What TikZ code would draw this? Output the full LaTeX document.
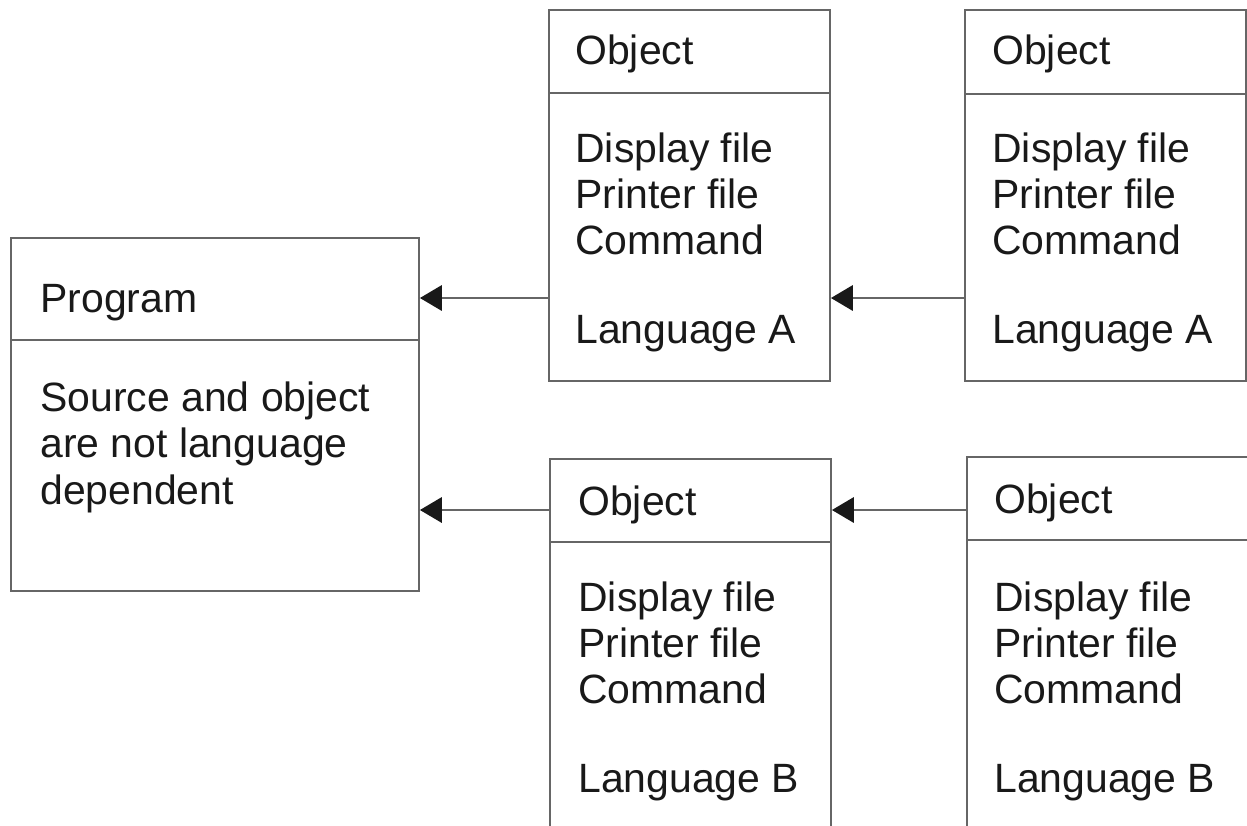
\documentclass[tikz,border=0pt]{standalone}
\usepackage{fontspec}
\setmainfont{Liberation Sans}
\usetikzlibrary{positioning, arrows.meta}

\begin{document}
\begin{tikzpicture}[x=0.02cm, y=-0.02cm,
  box/.style={draw=black!60, line width=1.1pt, anchor=north west, inner sep=0pt},
  txt/.style={anchor=base west, inner sep=0pt, align=left, text=black!90, font=\fontsize{23.3}{26.2}\selectfont},
  arr/.style={draw=black!60, line width=1.1pt, -{Triangle[length=12.5pt, width=14.5pt, color=black!90]}}]
\clip (0,0) rectangle (1247,825);

% boxes
\node[box, minimum width=408*0.02cm, minimum height=353*0.02cm] (prog) at (10,237) {};
\node[box, minimum width=281*0.02cm, minimum height=371*0.02cm] (objA1) at (548,9) {};
\node[box, minimum width=281*0.02cm, minimum height=371*0.02cm] (objA2) at (964,9) {};
\node[box, minimum width=281*0.02cm, minimum height=500*0.02cm] (objB1) at (549,458) {};
\node[box, minimum width=281*0.02cm, minimum height=500*0.02cm] (objB2) at (966,456) {};

% dividers
\draw[black!60, line width=1.1pt] (prog.north west) ++(0,103) -- ++(408,0);
\draw[black!60, line width=1.1pt] (objA1.north west) ++(0,84) -- ++(281,0);
\draw[black!60, line width=1.1pt] (objA2.north west) ++(0,85) -- ++(281,0);
\draw[black!60, line width=1.1pt] (objB1.north west) ++(0,84) -- ++(281,0);
\draw[black!60, line width=1.1pt] (objB2.north west) ++(0,84) -- ++(281,0);

% texts (base = last line)
\node[txt] (progT) at ([shift={(30,75)}]prog.north west) {Program};
\node[txt] (progB) at ([shift={(30,267)}]prog.north west) {Source and object\\are not language\\dependent};

\node[txt] (objA1T) at ([shift={(27,55)}]objA1.north west) {Object};
\node[txt] (objA1B) at ([shift={(27,334)}]objA1.north west) {Display file\\Printer file\\Command\\[24pt]Language A};
\node[txt] (objA2T) at ([shift={(28,55)}]objA2.north west) {Object};
\node[txt] (objA2B) at ([shift={(28,334)}]objA2.north west) {Display file\\Printer file\\Command\\[24pt]Language A};
\node[txt] (objB1T) at ([shift={(29,57)}]objB1.north west) {Object};
\node[txt] (objB1B) at ([shift={(29,334)}]objB1.north west) {Display file\\Printer file\\Command\\[24pt]Language B};
\node[txt] (objB2T) at ([shift={(28,57)}]objB2.north west) {Object};
\node[txt] (objB2B) at ([shift={(28,336)}]objB2.north west) {Display file\\Printer file\\Command\\[24pt]Language B};

% arrows
\coordinate (rowA) at (0,298);
\coordinate (rowB) at (0,510);
\draw[arr] (objA1.west |- rowA) -- (prog.east |- rowA);
\draw[arr] (objA2.west |- rowA) -- (objA1.east |- rowA);
\draw[arr] (objB1.west |- rowB) -- (prog.east |- rowB);
\draw[arr] (objB2.west |- rowB) -- (objB1.east |- rowB);
\end{tikzpicture}
\end{document}
